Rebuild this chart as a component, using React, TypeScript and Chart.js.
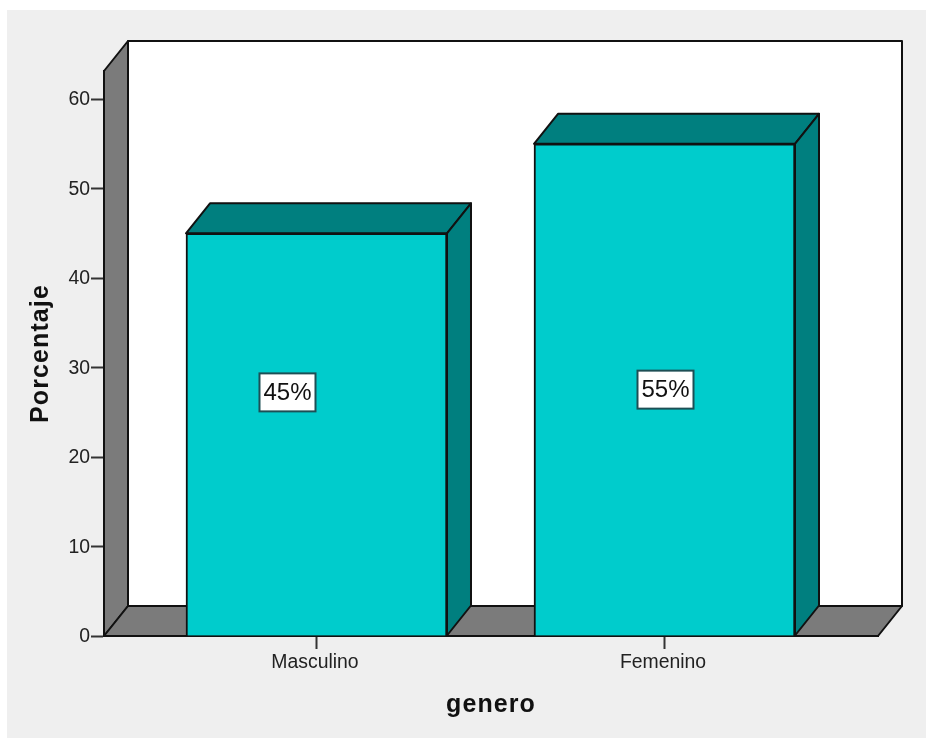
import React, { useEffect, useRef } from "react";
import { Chart, registerables } from "chart.js";

Chart.register(...registerables);

const categories = ["Masculino", "Femenino"];
const porcentajes = [45, 55];
const etiquetas = ["45%", "55%"];
const yTicks = [0, 10, 20, 30, 40, 50, 60];

const DEPTH_X = 24;
const DEPTH_Y = 30;
const INK = "#111111";
const WALL = "#7b7b7b";
const BAR_FRONT = "#00cccc";
const BAR_SHADE = "#007f7f";
const PANEL = "#efefef";

function polygon(ctx: CanvasRenderingContext2D, pts: number[][], fill: string) {
  ctx.beginPath();
  pts.forEach(([x, y], i) => (i ? ctx.lineTo(x, y) : ctx.moveTo(x, y)));
  ctx.closePath();
  ctx.fillStyle = fill;
  ctx.fill();
  ctx.strokeStyle = INK;
  ctx.lineWidth = 2;
  ctx.lineJoin = "round";
  ctx.stroke();
}

// Spaced-out axis titles: the scale's own title routine runs with tracking on.
const trackedTitles = {
  id: "trackedTitles",
  afterLayout(chart: any) {
    for (const scale of Object.values<any>(chart.scales)) {
      if (scale.__tracked) continue;
      const drawTitle = scale.drawTitle.bind(scale);
      scale.drawTitle = () => {
        const ctx = chart.ctx;
        const prev = ctx.letterSpacing;
        ctx.letterSpacing = "1.1px";
        drawTitle();
        ctx.letterSpacing = prev;
      };
      scale.__tracked = true;
    }
  },
};

// Paints the panel, then the box the bars stand in, then the value boxes.
const box3d = {
  id: "box3d",
  beforeDraw(chart: any) {
    const { ctx, width, height } = chart;
    ctx.save();
    ctx.fillStyle = "#ffffff";
    ctx.fillRect(0, 0, width, height);
    ctx.fillStyle = PANEL;
    ctx.fillRect(7, 10, width - 7, height - 10);
    ctx.restore();
  },
  beforeDatasetsDraw(chart: any) {
    const { ctx, chartArea: a } = chart;
    const { left: l, right: r, top: t, bottom: b } = a;
    const dx = DEPTH_X;
    const dy = DEPTH_Y;
    ctx.save();
    polygon(ctx, [[l + dx, t - dy], [r + dx, t - dy], [r + dx, b - dy], [l + dx, b - dy]], "#ffffff");
    polygon(ctx, [[l, b], [l, t], [l + dx, t - dy], [l + dx, b - dy]], WALL);
    polygon(ctx, [[l, b], [l + dx, b - dy], [r + dx, b - dy], [r, b]], WALL);
    for (const bar of chart.getDatasetMeta(0).data) {
      const { x, y, base, width: w } = bar.getProps(["x", "y", "base", "width"], true);
      const x0 = x - w / 2;
      const x1 = x + w / 2;
      polygon(ctx, [[x0, y], [x0 + dx, y - dy], [x1 + dx, y - dy], [x1, y]], BAR_SHADE);
      polygon(ctx, [[x1, y], [x1 + dx, y - dy], [x1 + dx, base - dy], [x1, base]], BAR_SHADE);
    }
    ctx.restore();
  },
  afterDatasetsDraw(chart: any) {
    const { ctx } = chart;
    const shifts = [[-29, -42], [1, 0]];
    ctx.save();
    ctx.font = "24px 'Liberation Sans'";
    ctx.textAlign = "center";
    ctx.textBaseline = "middle";
    chart.getDatasetMeta(0).data.forEach((bar: any, i: number) => {
      const { x, y, base } = bar.getProps(["x", "y", "base"], true);
      const cx = x + shifts[i][0];
      const cy = (y + base) / 2 + shifts[i][1];
      const bw = 56;
      const bh = 38;
      ctx.fillStyle = "#ffffff";
      ctx.strokeStyle = "#1d4f55";
      ctx.lineWidth = 2;
      ctx.fillRect(cx - bw / 2, cy - bh / 2, bw, bh);
      ctx.strokeRect(cx - bw / 2, cy - bh / 2, bw, bh);
      ctx.fillStyle = INK;
      ctx.fillText(etiquetas[i], cx, cy + 1);
    });
    ctx.restore();
  },
};

export default function App() {
  const ref = useRef<HTMLCanvasElement>(null);
  useEffect(() => {
    const tickFont = { family: "'Liberation Sans'", size: 19.4 };
    const titleFont = { family: "'Liberation Sans'", size: 25, weight: "bold" as const };
    const chart = new Chart(ref.current!, {
      type: "bar",
      data: {
        datasets: [
          {
            data: porcentajes.map((y, x) => ({ x, y })),
            backgroundColor: BAR_FRONT,
            borderColor: INK,
            borderWidth: 2,
            barThickness: 261,
          },
        ],
      },
      options: {
        animation: false,
        responsive: false,
        layout: { padding: { top: 71, right: 48, bottom: 0, left: 0 } },
        plugins: { legend: { display: false }, tooltip: { enabled: false } },
        scales: {
          x: {
            type: "linear",
            offset: false,
            min: -0.6106,
            max: 1.6135,
            afterBuildTicks: (s: any) => {
              s.ticks = categories.map((_, value) => ({ value }));
            },
            afterFit: (s: any) => {
              s.height = 102;
            },
            ticks: {
              autoSkip: false,
              maxRotation: 0,
              padding: 2,
              labelOffset: -1.5,
              color: "#222222",
              font: tickFont,
              callback: (v: any) => categories[v as number],
            },
            grid: { offset: false, drawOnChartArea: false, tickLength: 13, tickColor: "#333333", tickWidth: 2 },
            border: { color: INK, width: 2 },
            title: {
              display: true,
              text: "genero",
              color: "#111111",
              font: titleFont,
              padding: { top: 0, bottom: 18 },
            },
          },
          y: {
            min: 0,
            max: 63.13,
            afterBuildTicks: (s: any) => {
              s.ticks = yTicks.map((value) => ({ value }));
            },
            afterFit: (s: any) => {
              s.width = 104;
            },
            ticks: { padding: 1, labelOffset: 1, color: "#222222", font: tickFont },
            grid: { drawOnChartArea: false, tickLength: 13, tickColor: "#333333", tickWidth: 2 },
            border: { color: INK, width: 2 },
            title: {
              display: true,
              text: "Porcentaje",
              color: "#111111",
              font: titleFont,
              padding: { top: 26, bottom: 0 },
            },
          },
        },
      },
      plugins: [box3d, trackedTitles],
    } as any);
    return () => chart.destroy();
  }, []);
  return (
    <canvas
      ref={ref}
      width={926}
      height={738}
      style={{ position: "absolute", left: 0, top: 0, display: "block" }}
    />
  );
}
